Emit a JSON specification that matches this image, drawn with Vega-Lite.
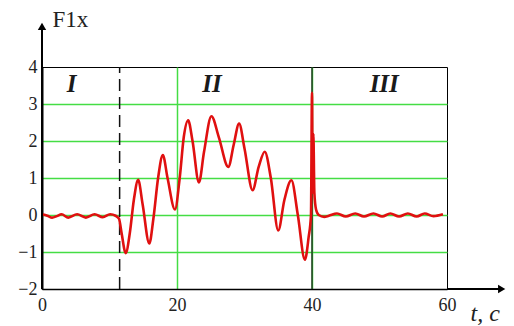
{
  "$schema": "https://vega.github.io/schema/vega-lite/v6.json",
  "width": 405,
  "height": 222,
  "autosize": {"type": "none"},
  "padding": {"left": 42, "top": 67, "right": 67, "bottom": 37},
  "background": "white",
  "config": {
    "view": {"stroke": "black", "strokeWidth": 1},
    "font": "Liberation Serif",
    "axis": {"labelFont": "Liberation Serif", "titleFont": "Liberation Serif"}
  },
  "datasets": {
    "curve": [
      {"t": 0, "v": 0.02}, {"t": 0.8, "v": -0.02}, {"t": 1.5, "v": -0.07}, {"t": 2.2, "v": -0.03},
      {"t": 2.9, "v": 0.02}, {"t": 3.9, "v": -0.07}, {"t": 5.2, "v": 0.02}, {"t": 6.5, "v": -0.07},
      {"t": 7.8, "v": 0.02}, {"t": 9.0, "v": -0.06}, {"t": 10.1, "v": 0.02}, {"t": 10.9, "v": -0.02},
      {"t": 11.4, "v": -0.1}, {"t": 11.8, "v": -0.5}, {"t": 12.4, "v": -1.03}, {"t": 13.0, "v": -0.5},
      {"t": 13.6, "v": 0.4}, {"t": 14.25, "v": 0.95}, {"t": 14.9, "v": 0.3}, {"t": 15.9, "v": -0.77},
      {"t": 16.5, "v": -0.1}, {"t": 17.2, "v": 1.0}, {"t": 17.9, "v": 1.62}, {"t": 18.6, "v": 1.0},
      {"t": 19.7, "v": 0.15}, {"t": 20.4, "v": 1.0}, {"t": 21.0, "v": 2.1}, {"t": 21.65, "v": 2.56},
      {"t": 22.3, "v": 2.0}, {"t": 23.25, "v": 0.88}, {"t": 24.0, "v": 1.7}, {"t": 25.1, "v": 2.67},
      {"t": 26.2, "v": 2.1}, {"t": 27.6, "v": 1.3}, {"t": 28.4, "v": 1.9}, {"t": 29.2, "v": 2.47},
      {"t": 30.0, "v": 1.8}, {"t": 31.2, "v": 0.67}, {"t": 32.1, "v": 1.3}, {"t": 33.0, "v": 1.71},
      {"t": 33.9, "v": 1.0}, {"t": 35.0, "v": -0.42}, {"t": 35.9, "v": 0.4}, {"t": 36.95, "v": 0.94},
      {"t": 37.9, "v": 0.0}, {"t": 38.95, "v": -1.21}, {"t": 39.5, "v": -0.6}, {"t": 39.85, "v": 0.0},
      {"t": 40.0, "v": 3.3}, {"t": 40.1, "v": 0.6}, {"t": 40.2, "v": 2.2}, {"t": 40.35, "v": 0.6},
      {"t": 40.6, "v": 0.15}, {"t": 41.0, "v": 0.0}, {"t": 41.8, "v": -0.05}, {"t": 42.5, "v": -0.02},
      {"t": 43.7, "v": 0.04}, {"t": 45.0, "v": -0.04}, {"t": 46.4, "v": 0.04}, {"t": 47.7, "v": -0.04},
      {"t": 49.1, "v": 0.04}, {"t": 50.4, "v": -0.04}, {"t": 51.6, "v": 0.04}, {"t": 52.9, "v": -0.04},
      {"t": 54.2, "v": 0.04}, {"t": 55.5, "v": -0.04}, {"t": 56.7, "v": 0.04}, {"t": 58.0, "v": -0.03},
      {"t": 59.4, "v": 0.02}
    ],
    "regions": [
      {"t": 4.4, "v": 3.55, "label": "I"},
      {"t": 25.2, "v": 3.55, "label": "II"},
      {"t": 50.7, "v": 3.55, "label": "III"}
    ],
    "dividers": [
      {"t": 11.5, "v": -2, "v2": 4, "kind": "dashed"},
      {"t": 40, "v": -2, "v2": 4, "kind": "solid"}
    ],
    "axisLines": [
      {"t": 0, "v": -2, "t2": 0, "v2": 5.1},
      {"t": 60, "v": -2, "t2": 68.1, "v2": -2}
    ],
    "arrows": [
      {"t": 0, "v": 5.1, "shape": "triangle-up"},
      {"t": 68.1, "v": -2, "shape": "triangle-right"}
    ]
  },
  "encoding": {
    "x": {
      "field": "t", "type": "quantitative",
      "scale": {"domain": [0, 60], "nice": false, "zero": false},
      "axis": {
        "values": [0, 20, 40, 60],
        "ticks": false,
        "domainColor": "black",
        "domainWidth": 1.5,
        "labelFont": "Liberation Serif",
        "labelFontSize": 18,
        "labelColor": "#222",
        "labelPadding": 7,
        "labelFlush": false,
        "labelOverlap": false,
        "grid": true,
        "gridColor": {"condition": {"test": "datum.value == 20 || datum.value == 40", "value": "#44dd44"}, "value": "transparent"},
        "gridWidth": 1.5,
        "title": "t, c",
        "titleFont": "Liberation Serif",
        "titleFontStyle": "italic",
        "titleFontWeight": "normal",
        "titleFontSize": 24,
        "titleColor": "#222",
        "titleAlign": "left",
        "titleBaseline": "alphabetic",
        "titleX": 428,
        "titleY": 31
      }
    },
    "y": {
      "field": "v", "type": "quantitative",
      "scale": {"domain": [-2, 4], "nice": false, "zero": false},
      "axis": {
        "values": [-2, -1, 0, 1, 2, 3, 4],
        "ticks": false,
        "domainColor": "black",
        "domainWidth": 2,
        "labelFont": "Liberation Serif",
        "labelFontSize": 18,
        "labelColor": "#222",
        "labelPadding": 5,
        "labelFlush": false,
        "labelOverlap": false,
        "grid": true,
        "gridColor": {"condition": {"test": "datum.value == 4 || datum.value == -2", "value": "transparent"}, "value": "#44dd44"},
        "gridWidth": 1.5,
        "title": "F1x",
        "titleFont": "Liberation Serif",
        "titleFontWeight": "normal",
        "titleFontSize": 23,
        "titleColor": "#222",
        "titleAngle": 0,
        "titleAlign": "left",
        "titleBaseline": "alphabetic",
        "titleX": 10,
        "titleY": -41
      }
    }
  },
  "layer": [
    {
      "data": {"name": "dividers"},
      "mark": {"type": "rule", "strokeWidth": 1.5},
      "encoding": {
        "y2": {"field": "v2"},
        "strokeDash": {
          "field": "kind", "type": "nominal",
          "scale": {"domain": ["dashed", "solid"], "range": [[12, 6], [1, 0]]},
          "legend": null
        },
        "color": {
          "field": "kind", "type": "nominal",
          "scale": {"domain": ["dashed", "solid"], "range": ["#111111", "#1f3a1f"]},
          "legend": null
        }
      }
    },
    {
      "data": {"name": "curve"},
      "mark": {"type": "line", "color": "#e01010", "strokeWidth": 2.6, "interpolate": "monotone"},
      "encoding": {}
    },
    {
      "data": {"name": "axisLines"},
      "mark": {"type": "rule", "color": "black", "strokeWidth": 2},
      "encoding": {
        "x2": {"field": "t2"},
        "y2": {"field": "v2"}
      }
    },
    {
      "data": {"name": "arrows"},
      "mark": {"type": "point", "filled": true, "color": "black", "size": 70, "opacity": 1},
      "encoding": {
        "shape": {"field": "shape", "type": "nominal", "scale": null, "legend": null}
      }
    },
    {
      "data": {"name": "regions"},
      "mark": {"type": "text", "font": "Liberation Serif", "fontSize": 25, "fontWeight": "bold", "fontStyle": "italic", "color": "#1a1a1a", "baseline": "middle", "align": "center"},
      "encoding": {
        "text": {"field": "label", "type": "nominal"}
      }
    }
  ]
}
